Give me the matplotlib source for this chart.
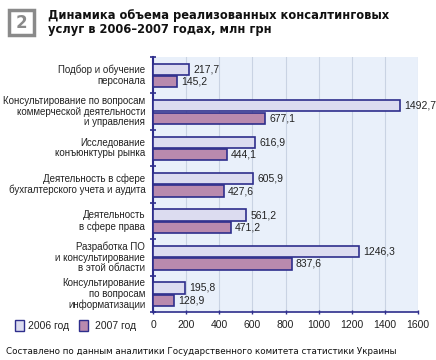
import matplotlib
matplotlib.use("Agg")
import matplotlib.pyplot as plt
from matplotlib.patches import Rectangle
import numpy as np

categories = [
    "Подбор и обучение\nперсонала",
    "Консультирование по вопросам\nкоммерческой деятельности\nи управления",
    "Исследование\nконъюнктуры рынка",
    "Деятельность в сфере\nбухгалтерского учета и аудита",
    "Деятельность\nв сфере права",
    "Разработка ПО\nи консультирование\nв этой области",
    "Консультирование\nпо вопросам\nинформатизации",
]
values_2006 = [217.7, 1492.7, 616.9, 605.9, 561.2, 1246.3, 195.8]
values_2007 = [145.2, 677.1, 444.1, 427.6, 471.2, 837.6, 128.9]
series_names = ["2006 год", "2007 год"]
xticks = [0, 200, 400, 600, 800, 1000, 1200, 1400, 1600]

c06 = "#dcdcf0"
c07 = "#b98aae"
edge = "#2e2e8c"
navy = "#2e2e8c"

plt.rcParams['font.family'] = ['Liberation Sans', 'DejaVu Sans']

fig = plt.figure(figsize=(4.36, 3.6), dpi=100)
ax = fig.add_axes([153/436, 1-312/360, 265/436, 255/360])
ax.set_facecolor("#e9f0fa")

y = np.arange(len(categories))
h = 0.31
ax.barh(y - 0.16, values_2006, height=h, color=c06, edgecolor=edge, linewidth=1.2, zorder=3)
ax.barh(y + 0.18, values_2007, height=h, color=c07, edgecolor=edge, linewidth=1.2, zorder=3)

def fmt(v):
    return f"{v:.1f}".replace(".", ",")

for yi, v in zip(y, values_2006):
    ax.text(v + 25, yi - 0.16, fmt(v), va="center", ha="left", fontsize=7.5, color="#222", clip_on=False)
for yi, v in zip(y, values_2007):
    ax.text(v + 25, yi + 0.18, fmt(v), va="center", ha="left", fontsize=7.5, color="#222", clip_on=False)

ax.set_xlim(0, 1600)
ax.set_ylim(len(categories) - 0.5, -0.5)
ax.set_xticks(xticks)
ax.set_xticklabels([str(t) for t in xticks], fontsize=7.5, color="#222")
ax.tick_params(axis="x", length=3, width=1, color=navy, direction="inout", pad=4)
ax.grid(axis="x", color="#c9d3e3", linewidth=0.8, zorder=0)

ax.set_yticks(np.arange(len(categories) + 1) - 0.5, minor=False)
ax.set_yticklabels([])
ax.tick_params(axis="y", length=4, width=1.2, color=navy, direction="inout")
for yi, lab in zip(y, categories):
    ax.annotate(lab, xy=(0, yi), xycoords="data", xytext=(-5.5, 0), textcoords="offset points",
                ha="right", va="center", fontsize=7.0, color="#222", linespacing=1.08,
                annotation_clip=False)

for s in ["top", "right"]:
    ax.spines[s].set_visible(False)
ax.spines["left"].set_color(navy)
ax.spines["left"].set_linewidth(1.5)
ax.spines["bottom"].set_color(navy)
ax.spines["bottom"].set_linewidth(1.2)

# legend
fig.patches.append(Rectangle((15/436, 1-331/360), 9/436, 11/360, transform=fig.transFigure,
                             facecolor=c06, edgecolor=edge, linewidth=1.0))
fig.text(28/436, 1-326/360, series_names[0], fontsize=7.5, va="center", ha="left", color="#222")
fig.patches.append(Rectangle((79/436, 1-331/360), 9/436, 11/360, transform=fig.transFigure,
                             facecolor=c07, edgecolor=edge, linewidth=1.0))
fig.text(95/436, 1-326/360, series_names[1], fontsize=7.5, va="center", ha="left", color="#222")

# title box
fig.patches.append(Rectangle((9/436, 1-35/360), 25/436, 25/360, transform=fig.transFigure,
                             facecolor="white", edgecolor="#8a8a8a", linewidth=2.5))
fig.text(21.5/436, 1-22.5/360, "2", fontsize=12, fontweight="bold", color="#8a8a8a",
         ha="center", va="center", family=["DejaVu Sans"])
fig.text(48/436, 1-9/360, "Динамика объема реализованных консалтинговых\nуслуг в 2006–2007 годах, млн грн",
         fontsize=8.3, fontweight="bold", ha="left", va="top", color="#111", linespacing=1.1,
         family=["DejaVu Sans"])

fig.text(6/436, 1-352/360, "Составлено по данным аналитики Государственного комитета статистики Украины",
         fontsize=6.3, ha="left", va="center", color="#111", family=["DejaVu Sans"])

fig.savefig("out.png", dpi=100)
